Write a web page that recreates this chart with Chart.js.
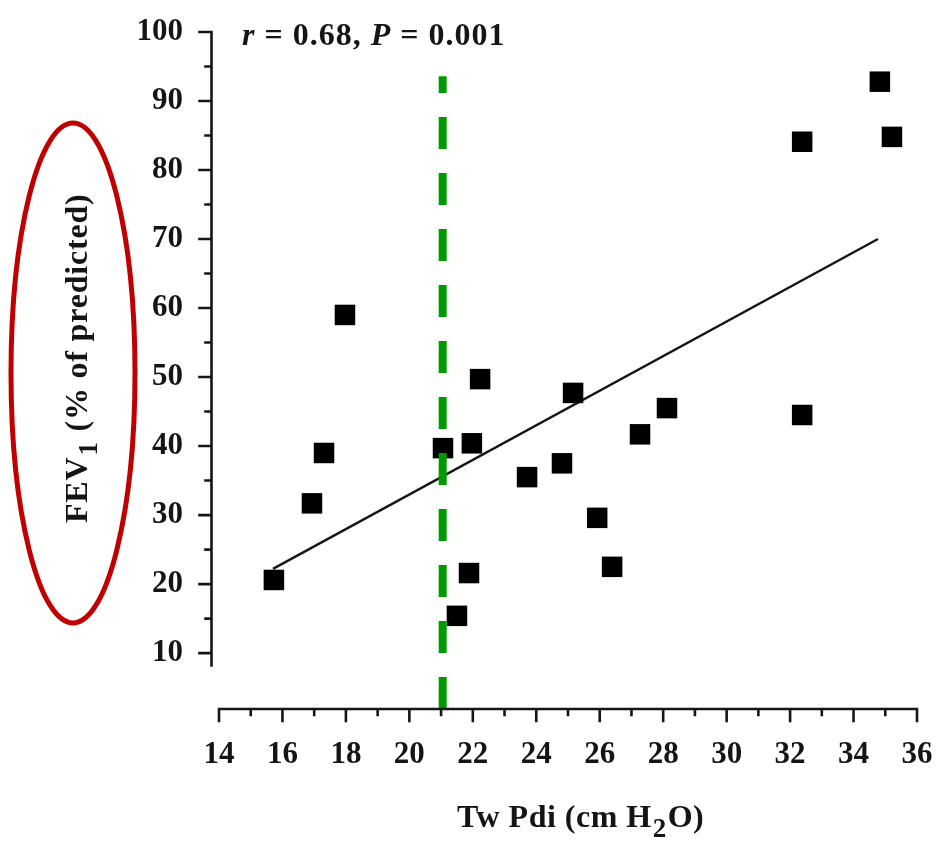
<!DOCTYPE html>
<html><head><meta charset="utf-8">
<script src="https://cdn.jsdelivr.net/npm/chart.js@4.4.0/dist/chart.umd.min.js"></script>
<style>html,body{margin:0;padding:0;background:#fff}#wrap{width:937px;height:843px;position:relative}</style>
</head><body><div id="wrap"><canvas id="c" width="937" height="843"></canvas></div>
<script>
// ---- data ----
const twPdi = [15.73, 16.93, 17.31, 17.97, 21.06, 21.97, 21.50, 21.88, 22.23, 23.71,
               24.81, 25.16, 25.92, 26.39, 27.27, 28.12, 32.38, 32.38, 34.83, 35.21];
const fev1  = [20.6, 31.7, 39.0, 59.0, 39.7, 40.4, 15.4, 21.6, 49.7, 35.5,
               37.5, 47.7, 29.6, 22.5, 41.7, 45.5, 84.1, 44.5, 92.8, 84.8];
const fitX = [15.70, 34.77];
const fitY = [22.2, 70.0];
const cutoffX = [21.05, 21.05];
const cutoffY = [1.9, 93.6];
const xTicks = [14, 16, 18, 20, 22, 24, 26, 28, 30, 32, 34, 36];
const xMinorTicks = [15, 17, 19, 21, 23, 25, 27, 29, 31, 33, 35];
const yTicks = [10, 20, 30, 40, 50, 60, 70, 80, 90, 100];
const yMinorTicks = [15, 25, 35, 45, 55, 65, 75, 85, 95];
const yAxisLow = 8.2;
const statsText = [['r', true], [' = 0.68, ', false], ['P', true], [' = 0.001', false]];
const xTitle = ['Tw Pdi (cm H', '2', 'O)'];
const yTitle = ['FEV', '1', ' (% of predicted)'];

const FAM = '"Liberation Serif", "Times New Roman", serif';
const INK = '#151515';

const axesPlugin = {
  id: 'axesDraw',
  afterDraw(chart) {
    const { ctx, scales: { x, y } } = chart;
    ctx.save();
    ctx.strokeStyle = INK;
    ctx.lineWidth = 2.6;
    ctx.lineCap = 'square';
    const ax = x.left - 7.5;
    ctx.beginPath();
    ctx.moveTo(ax, y.getPixelForValue(yAxisLow));
    ctx.lineTo(ax, y.getPixelForValue(yTicks[yTicks.length - 1]));
    yTicks.forEach(v => { const p = y.getPixelForValue(v); ctx.moveTo(ax, p); ctx.lineTo(ax - 12, p); });
    yMinorTicks.forEach(v => { const p = y.getPixelForValue(v); ctx.moveTo(ax, p); ctx.lineTo(ax - 6, p); });
    const ay = y.bottom;
    ctx.moveTo(x.getPixelForValue(xTicks[0]), ay);
    ctx.lineTo(x.getPixelForValue(xTicks[xTicks.length - 1]), ay);
    xTicks.forEach(v => { const p = x.getPixelForValue(v); ctx.moveTo(p, ay); ctx.lineTo(p, ay + 12); });
    xMinorTicks.forEach(v => { const p = x.getPixelForValue(v); ctx.moveTo(p, ay); ctx.lineTo(p, ay + 6); });
    ctx.stroke();

    // text
    ctx.fillStyle = INK;
    ctx.textBaseline = 'alphabetic';
    ctx.textAlign = 'left';
    // stats annotation
    let tx = 242;
    ctx.letterSpacing = '1px';
    statsText.forEach(([t, it]) => {
      ctx.font = (it ? 'italic ' : '') + 'bold 32px ' + FAM;
      ctx.fillText(t, tx, 45);
      tx += ctx.measureText(t).width;
    });
    const drawSub = (parts, x0, base, size) => {
      let cx = x0;
      ctx.font = 'bold ' + size + 'px ' + FAM;
      ctx.fillText(parts[0], cx, base); cx += ctx.measureText(parts[0]).width + 1;
      ctx.font = 'bold ' + Math.round(size * 0.85) + 'px ' + FAM;
      ctx.fillText(parts[1], cx, base + size * 0.3); cx += ctx.measureText(parts[1]).width + 1;
      ctx.font = 'bold ' + size + 'px ' + FAM;
      ctx.fillText(parts[2], cx, base);
    };
    ctx.letterSpacing = '0.5px';
    drawSub(xTitle, 457, 827, 32);
    ctx.save();
    ctx.letterSpacing = '0.8px';
    ctx.translate(87, 523);
    ctx.rotate(-Math.PI / 2);
    drawSub(yTitle, 0, 0, 32);
    ctx.restore();
    ctx.letterSpacing = '0px';

    // red ellipse annotation
    ctx.strokeStyle = '#c00000';
    ctx.lineWidth = 5;
    ctx.beginPath();
    ctx.ellipse(73, 373, 62, 250, 0, 0, Math.PI * 2);
    ctx.stroke();
    ctx.restore();
  }
};

new Chart(document.getElementById('c'), {
  type: 'scatter',
  data: {
    datasets: [
      {
        label: 'cutoff',
        data: cutoffX.map((v, i) => ({ x: v, y: cutoffY[i] })),
        showLine: true, borderColor: '#009a00', borderWidth: 8, borderDash: [32, 24],
        pointRadius: 0, borderCapStyle: 'butt'
      },
      {
        label: 'patients',
        data: twPdi.map((v, i) => ({ x: v, y: fev1[i] })),
        pointStyle: 'rect', pointRadius: 14.5, backgroundColor: '#000', borderWidth: 0
      },
      {
        label: 'fit',
        data: fitX.map((v, i) => ({ x: v, y: fitY[i] })),
        showLine: true, borderColor: INK, borderWidth: 2.4, pointRadius: 0
      }
    ]
  },
  options: {
    responsive: false,
    animation: false,
    devicePixelRatio: 1,
    layout: { padding: { top: 32, right: 20, left: 0, bottom: 0 } },
    plugins: { legend: { display: false }, tooltip: { enabled: false } },
    scales: {
      x: {
        type: 'linear', min: 14, max: 36,
        grid: { display: false, drawTicks: false }, border: { display: false },
        ticks: { font: { family: FAM, size: 31, weight: 'bold' }, color: INK, padding: 27, maxRotation: 0, autoSkip: false },
        afterBuildTicks: s => { s.ticks = xTicks.map(v => ({ value: v })); },
        afterFit: s => { s.height = 134; s.paddingLeft = 0; s.paddingRight = 0; }
      },
      y: {
        type: 'linear', min: 1.9, max: 100,
        grid: { display: false, drawTicks: false }, border: { display: false },
        ticks: { font: { family: FAM, size: 31, weight: 'bold' }, color: INK, padding: 36, autoSkip: false },
        afterBuildTicks: s => { s.ticks = yTicks.map(v => ({ value: v })); },
        afterFit: s => { s.width = 219; s.paddingTop = 0; s.paddingBottom = 0; }
      }
    }
  },
  plugins: [axesPlugin]
});
</script></body></html>
